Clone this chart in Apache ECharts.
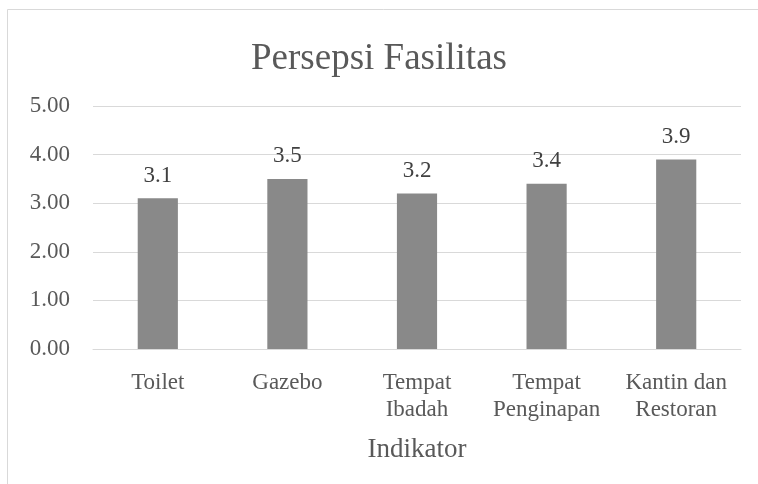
<!DOCTYPE html>
<html>
<head>
<meta charset="utf-8">
<script src="https://cdn.jsdelivr.net/npm/echarts@6/dist/echarts.min.js"></script>
<style>
html,body{margin:0;padding:0;background:#fff;}
#chart{width:758px;height:484px;}
</style>
</head>
<body>
<div id="chart"></div>
<script>
var categories = ["Toilet", "Gazebo", "Tempat\nIbadah", "Tempat\nPenginapan", "Kantin dan\nRestoran"];
var values = [3.1, 3.5, 3.2, 3.4, 3.9];
var yTicks = [0, 1, 2, 3, 4, 5];

var FONT = '"Liberation Serif", "DejaVu Serif", serif';
var chart = echarts.init(document.getElementById('chart'));
chart.setOption({
  backgroundColor: '#ffffff',
  animation: false,
  graphic: [{
    type: 'rect',
    shape: { x: 7.5, y: 9.5, width: 800, height: 600 },
    style: { fill: 'none', stroke: '#d9d9d9', lineWidth: 1 },
    silent: true
  }],
  title: {
    text: 'Persepsi Fasilitas',
    left: 'center',
    top: 36,
    textStyle: { fontFamily: FONT, fontSize: 37, fontWeight: 'normal', color: '#595959' }
  },
  grid: { left: 93, right: 17, top: 106, bottom: 135 },
  xAxis: {
    type: 'category',
    data: categories,
    name: 'Indikator',
    nameLocation: 'middle',
    nameGap: 87,
    nameTextStyle: { fontFamily: FONT, fontSize: 27, color: '#595959' },
    axisLine: { show: true, lineStyle: { color: '#d9d9d9', width: 1 } },
    axisTick: { show: false },
    axisLabel: { interval: 0, margin: 20, fontFamily: FONT, fontSize: 23, color: '#595959', lineHeight: 27 }
  },
  yAxis: {
    type: 'value',
    min: yTicks[0],
    max: yTicks[yTicks.length - 1],
    interval: 1,
    axisLine: { show: false },
    axisTick: { show: false },
    splitLine: { lineStyle: { color: '#d9d9d9', width: 1 } },
    axisLabel: {
      margin: 23,
      fontFamily: FONT, fontSize: 23, color: '#595959',
      formatter: function (v) { return v.toFixed(2); }
    }
  },
  series: [{
    type: 'bar',
    data: values,
    barWidth: '31%',
    itemStyle: { color: '#898989' },
    label: {
      show: true,
      position: 'top',
      distance: 11,
      fontFamily: FONT, fontSize: 23, color: '#404040',
      formatter: function (p) { return p.value.toFixed(1); }
    }
  }]
});
</script>
</body>
</html>
